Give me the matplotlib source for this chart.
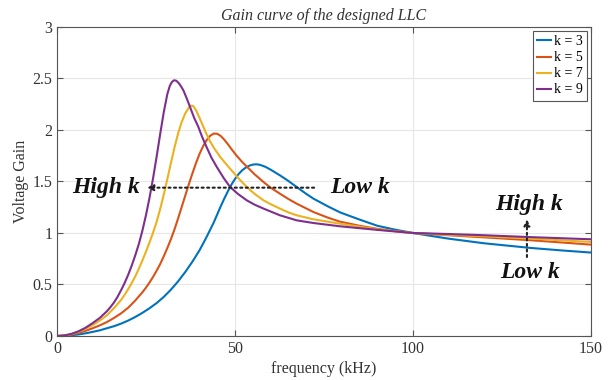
import matplotlib
matplotlib.use('Agg')
import matplotlib.pyplot as plt

plt.rcParams['font.family'] = ['Liberation Serif', 'DejaVu Serif']

# Значения (частота в кГц, коэффициент усиления)
f_k3 = [0, 2, 4, 6, 8, 10, 12, 14, 16, 18, 20, 22, 24, 26, 28, 30, 32, 34, 36, 38, 40, 42, 44,
        46, 47, 48, 49, 50, 51, 52, 53, 54, 55, 56, 57, 58.5, 60, 62.6, 65, 67.3, 70, 72, 76,
        79.5, 85, 90, 95, 100, 105, 110, 120, 133, 142, 150]
g_k3 = [0, 0.002, 0.007, 0.015, 0.026, 0.04, 0.055, 0.075, 0.095, 0.12, 0.15, 0.185, 0.225, 0.27,
        0.32, 0.38, 0.45, 0.53, 0.62, 0.72, 0.83, 0.96, 1.1, 1.26, 1.335, 1.405, 1.47, 1.525, 1.572,
        1.608, 1.635, 1.653, 1.664, 1.667, 1.662, 1.643, 1.615, 1.56, 1.505, 1.447, 1.38, 1.334,
        1.26, 1.2, 1.13, 1.07, 1.032, 1.0, 0.972, 0.945, 0.9, 0.855, 0.83, 0.81]

f_k5 = [0, 2, 4, 6, 8, 10, 12, 14, 16, 18, 20, 22, 24, 25, 26, 27, 28, 29, 30, 31, 32, 33, 34,
        35, 36, 37, 38, 39, 40, 41, 42, 43, 44, 45, 46, 47, 48, 49, 50.5, 52, 53.3, 55.5, 58, 60,
        62.6, 65, 67.3, 72, 76, 79.5, 85, 90, 95, 100, 110, 118.8, 132.9, 150]
g_k5 = [0, 0.003, 0.013, 0.03, 0.05, 0.075, 0.103, 0.135, 0.175, 0.22, 0.275, 0.345, 0.425, 0.47,
        0.52, 0.575, 0.635, 0.7, 0.775, 0.855, 0.94, 1.035, 1.14, 1.25, 1.36, 1.47, 1.575, 1.675,
        1.765, 1.84, 1.9, 1.943, 1.965, 1.963, 1.942, 1.905, 1.862, 1.815, 1.748, 1.69, 1.645,
        1.57, 1.495, 1.44, 1.382, 1.33, 1.285, 1.204, 1.15, 1.11, 1.07, 1.04, 1.018, 1.0, 0.978,
        0.96, 0.93, 0.887]

f_k7 = [0, 2, 4, 6, 8, 10, 12, 14, 16, 18, 19, 20, 21, 22, 23, 24, 25, 26, 27, 28, 29, 30, 31,
        32, 33, 34, 35, 36, 37, 37.6, 38.3, 39, 40, 41, 42, 43, 44, 45.8, 47, 48.6, 51, 53.3, 55.5,
        58, 60, 62.6, 65, 67.3, 72, 79.5, 90, 100, 110, 118.8, 132.9, 150]
g_k7 = [0, 0.004, 0.018, 0.04, 0.07, 0.105, 0.15, 0.2, 0.27, 0.35, 0.4, 0.455, 0.515, 0.58, 0.655,
        0.735, 0.82, 0.91, 1.005, 1.11, 1.235, 1.375, 1.525, 1.68, 1.83, 1.965, 2.075, 2.16, 2.215,
        2.237, 2.232, 2.195, 2.12, 2.04, 1.96, 1.89, 1.83, 1.74, 1.69, 1.625, 1.53, 1.447, 1.38,
        1.317, 1.28, 1.237, 1.2, 1.172, 1.133, 1.09, 1.035, 1.0, 0.982, 0.97, 0.946, 0.913]

f_k9 = [0, 2, 4, 6, 8, 10, 12, 14, 15, 16, 17, 18, 19, 20, 21, 22, 23, 24, 25, 26, 27, 28, 29,
        30, 31, 31.7, 32.3, 32.9, 33.5, 34.2, 34.9, 35.5, 36.4, 37.4, 38.5, 39.7, 40.8, 42.0, 43.4,
        44.9, 46.7, 48.6, 50.8, 53.3, 55.5, 58, 62.6, 67.3, 72, 79.5, 90, 100, 110, 118.8, 132.9, 150]
g_k9 = [0, 0.005, 0.02, 0.045, 0.08, 0.125, 0.175, 0.24, 0.28, 0.325, 0.38, 0.445, 0.515, 0.595,
        0.685, 0.785, 0.895, 1.025, 1.175, 1.345, 1.535, 1.745, 1.965, 2.175, 2.35, 2.43, 2.467,
        2.483, 2.478, 2.455, 2.42, 2.385, 2.31, 2.22, 2.12, 2.03, 1.93, 1.835, 1.73, 1.64, 1.54,
        1.447, 1.38, 1.317, 1.275, 1.237, 1.172, 1.123, 1.097, 1.065, 1.03, 1.0, 0.99, 0.98, 0.96,
        0.939]

labels = ['k = 3', 'k = 5', 'k = 7', 'k = 9']
colors = ['#0072BD', '#D95319', '#EDB120', '#7E2F8E']

yticks = [0, 0.5, 1, 1.5, 2, 2.5, 3]
ytick_labels = ['0', '0.5', '1', '1.5', '2', '2.5', '3']
xticks = [0, 50, 100, 150]

fig = plt.figure(figsize=(6.15, 3.8), dpi=100)
ax = fig.add_axes([0.0927, 0.1158, 0.8683, 0.8132])

for f, g, lab, c in zip([f_k3, f_k5, f_k7, f_k9], [g_k3, g_k5, g_k7, g_k9], labels, colors):
    ax.plot(f, g, color=c, linewidth=1.5, label=lab)

ax.set_xlim(0, 150)
ax.set_ylim(0, 3)
ax.set_xticks(xticks)
ax.set_yticks(yticks)
ax.set_yticklabels(ytick_labels)
ax.tick_params(direction='in', labelsize=11.5, labelcolor='#333333', top=True, right=True,
               length=4, color='#555555')
ax.grid(True, color='#e6e6e6', linewidth=0.8)
ax.set_axisbelow(True)
for s in ax.spines.values():
    s.set_color('#555555')
    s.set_linewidth(0.8)

ax.set_title('Gain curve of the designed LLC', style='italic', fontsize=11.5, pad=5,
             color='#333333')
ax.set_xlabel('frequency (kHz)', fontsize=11.5, labelpad=3, color='#333333')
ax.set_ylabel('Voltage Gain', fontsize=11.5, labelpad=2, color='#333333')

leg = ax.legend(loc='upper right', fontsize=10, handlelength=1.0, handletextpad=0.2,
                labelspacing=0.22, borderpad=0.3, borderaxespad=0.3,
                fancybox=False, framealpha=1)
leg.get_frame().set_edgecolor('#555555')
leg.get_frame().set_linewidth(0.8)

# Подписи и стрелки
txt = dict(fontsize=17, fontweight='bold', style='italic', ha='center', va='center',
           color='#111111')
ax.text(13.8, 1.44, 'High k', **txt)
ax.text(85, 1.44, 'Low k', **txt)
ax.text(132.5, 1.28, 'High k', **txt)
ax.text(133, 0.62, 'Low k', **txt)
arrow = dict(arrowstyle='-|>', linestyle=':', color='#222222', lw=1.5, mutation_scale=9)
ax.annotate('', xy=(24.5, 1.44), xytext=(73, 1.44), arrowprops=arrow)
ax.annotate('', xy=(132, 1.16), xytext=(132, 0.74), arrowprops=arrow)

plt.savefig('out.png', dpi=100)
